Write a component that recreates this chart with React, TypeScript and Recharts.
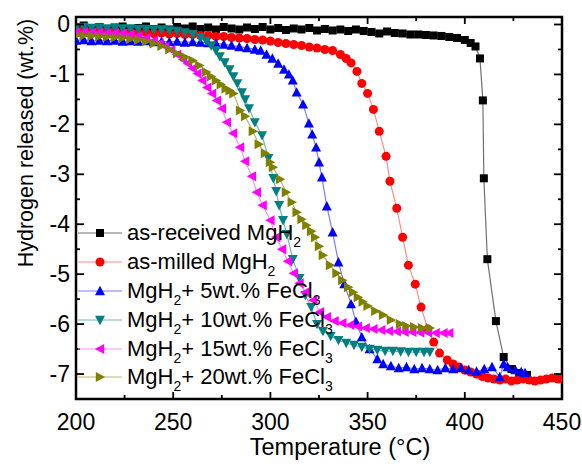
import React from 'react';
import { LineChart, Line, XAxis, YAxis, Legend, ReferenceArea, Label } from 'recharts';

// as-received MgH2
const receivedT = [200, 204, 208, 212, 216, 220, 224, 228, 232, 236, 240, 244, 248, 252, 256, 260, 264, 268, 272, 276, 280, 284, 288, 292, 296, 300, 304, 308, 312, 316, 320, 324, 328, 332, 336, 340, 344, 348, 352, 356, 360, 364, 368, 372, 376, 380, 384, 388, 392, 396, 400, 403, 405.5, 407.8, 409.3, 409.8, 411.6, 416, 420, 424, 428, 432];
const receivedH = [-0.06, -0.02, -0.08, -0.05, -0.1, -0.06, -0.04, -0.1, -0.07, -0.04, -0.09, -0.06, -0.1, -0.05, -0.08, -0.04, -0.09, -0.06, -0.1, -0.05, -0.08, -0.1, -0.06, -0.09, -0.05, -0.1, -0.07, -0.11, -0.08, -0.1, -0.07, -0.12, -0.09, -0.12, -0.1, -0.13, -0.1, -0.13, -0.15, -0.18, -0.14, -0.17, -0.18, -0.2, -0.2, -0.21, -0.22, -0.23, -0.25, -0.27, -0.31, -0.37, -0.44, -0.68, -1.52, -3.08, -4.7, -5.94, -6.66, -6.9, -6.98, -7.02];

// as-milled MgH2
const milledT = [200, 204, 208, 212, 216, 220, 224, 228, 232, 236, 240, 244, 248, 252, 256, 260, 264, 268, 272, 276, 280, 284, 288, 292, 296, 300, 304, 308, 312, 316, 320, 324, 328, 332, 336, 339, 341.5, 344.5, 347, 350, 353, 356, 359.5, 361.5, 365, 368, 371, 374.5, 377.5, 381, 384, 387, 391, 394, 397, 400, 403, 406, 409, 412, 415, 418, 421, 424, 427, 430, 433, 436, 439, 442, 445, 448, 450];
const milledH = [-0.12, -0.1, -0.14, -0.12, -0.15, -0.13, -0.16, -0.15, -0.17, -0.16, -0.18, -0.17, -0.19, -0.18, -0.2, -0.2, -0.22, -0.22, -0.24, -0.24, -0.26, -0.27, -0.28, -0.3, -0.31, -0.33, -0.36, -0.38, -0.4, -0.42, -0.45, -0.47, -0.5, -0.52, -0.6, -0.68, -0.77, -0.94, -1.18, -1.38, -1.7, -2.14, -2.64, -3.14, -3.68, -4.26, -4.82, -5.2, -5.66, -6.1, -6.36, -6.58, -6.72, -6.8, -6.86, -6.92, -6.96, -7.0, -7.05, -7.08, -7.1, -7.12, -7.1, -7.14, -7.12, -7.1, -7.12, -7.14, -7.12, -7.1, -7.08, -7.1, -7.1];

// MgH2 + 5wt.% FeCl3
const fe5T = [200, 204, 208, 212, 216, 220, 224, 228, 232, 236, 240, 244, 248, 252, 256, 260, 264, 268, 272, 276, 280, 284, 288, 292, 295, 298, 301, 304, 307, 309.5, 311.5, 313.5, 316.8, 319.8, 321.5, 323.5, 325, 326.5, 329, 332, 335, 338, 341.5, 344, 347, 351, 355, 358, 362, 366, 370, 374, 378, 382, 386, 390, 394, 398, 402, 406, 410, 414, 418, 420, 422, 426, 429, 431];
const fe5H = [-0.32, -0.31, -0.33, -0.32, -0.33, -0.32, -0.34, -0.33, -0.34, -0.33, -0.35, -0.34, -0.35, -0.34, -0.36, -0.35, -0.36, -0.37, -0.38, -0.4, -0.42, -0.45, -0.47, -0.5, -0.52, -0.6, -0.68, -0.78, -0.9, -1.0, -1.12, -1.36, -1.6, -1.98, -2.2, -2.46, -2.76, -3.06, -3.64, -4.16, -4.76, -5.2, -5.6, -5.95, -6.26, -6.5, -6.7, -6.8, -6.84, -6.88, -6.86, -6.9, -6.88, -6.9, -6.92, -6.88, -6.9, -6.88, -6.92, -6.95, -6.9, -6.86, -7.06, -6.8, -6.86, -6.92, -6.96, -6.98];

// MgH2 + 10wt.% FeCl3
const fe10T = [200, 204, 208, 212, 216, 220, 224, 228, 232, 236, 240, 244, 248, 252, 256, 260, 264, 267, 269.5, 272, 274, 276.5, 279, 281, 283, 285.4, 287, 289, 292, 295.7, 299, 301.5, 303, 304.5, 306.5, 308.5, 311.5, 315, 318, 321, 324, 327, 331, 335, 339, 343, 347, 351, 355, 359, 363, 367, 371, 375, 379, 382];
const fe10H = [-0.06, -0.05, -0.07, -0.06, -0.08, -0.07, -0.08, -0.08, -0.09, -0.09, -0.1, -0.1, -0.12, -0.13, -0.16, -0.2, -0.26, -0.33, -0.42, -0.52, -0.64, -0.76, -0.9, -1.04, -1.18, -1.36, -1.5, -1.68, -1.96, -2.22, -2.68, -3.08, -3.34, -3.62, -3.92, -4.2, -4.7, -5.08, -5.42, -5.66, -6.0, -6.14, -6.24, -6.32, -6.38, -6.42, -6.46, -6.5, -6.52, -6.54, -6.54, -6.55, -6.56, -6.56, -6.56, -6.56];

// MgH2 + 15wt.% FeCl3
const fe15T = [200, 204, 208, 212, 216, 220, 224, 228, 232, 236, 240, 243, 246, 249, 252, 255, 257.5, 260, 262.5, 265, 267.5, 270, 272.5, 275, 277.6, 280.8, 284.4, 287, 290.5, 293, 296, 300, 303, 306, 309, 312, 315, 318, 322, 325.5, 329, 333, 337, 341, 345, 349, 353, 357, 361, 365, 369, 373, 377, 381, 385, 389, 392];
const fe15H = [-0.16, -0.15, -0.16, -0.16, -0.17, -0.17, -0.18, -0.2, -0.23, -0.27, -0.32, -0.38, -0.44, -0.51, -0.6, -0.7, -0.78, -0.88, -0.98, -1.12, -1.26, -1.38, -1.52, -1.68, -1.96, -2.18, -2.46, -2.74, -3.04, -3.36, -3.62, -3.92, -4.26, -4.5, -4.74, -4.98, -5.18, -5.36, -5.52, -5.76, -5.86, -5.94, -5.98, -6.02, -6.05, -6.08, -6.1, -6.12, -6.14, -6.15, -6.16, -6.16, -6.17, -6.17, -6.18, -6.18, -6.18];

// MgH2 + 20wt.% FeCl3
const fe20T = [200, 204, 208, 212, 216, 220, 224, 228, 232, 236, 240, 244, 248, 252, 256, 260, 263.5, 267, 269.5, 272, 274.5, 277, 279, 281, 284.4, 287, 291, 294, 297.2, 299.8, 301.3, 305, 308, 311, 313.5, 316, 318.5, 321, 323, 325, 327, 330.7, 334, 337, 340, 342.5, 345, 347.5, 350, 354, 358, 362, 366.7, 370, 374, 378, 382];
const fe20H = [-0.22, -0.22, -0.23, -0.24, -0.25, -0.26, -0.27, -0.29, -0.31, -0.34, -0.38, -0.43, -0.5, -0.58, -0.65, -0.72, -0.82, -0.95, -1.04, -1.12, -1.2, -1.28, -1.32, -1.38, -1.72, -1.84, -2.14, -2.4, -2.58, -2.76, -2.86, -3.1, -3.36, -3.56, -3.76, -3.9, -4.02, -4.14, -4.26, -4.44, -4.62, -4.82, -4.98, -5.12, -5.26, -5.36, -5.46, -5.55, -5.64, -5.74, -5.82, -5.92, -6.0, -6.04, -6.06, -6.08, -6.08];

const xTicks = [200, 225, 250, 275, 300, 325, 350, 375, 400, 425, 450];
const yTicks = [-7, -6.5, -6, -5.5, -5, -4.5, -4, -3.5, -3, -2.5, -2, -1.5, -1, -0.5, 0];

const FONT = '"Liberation Sans", Arial, Helvetica, sans-serif';
const W = 582;
const H = 470;
const TOP = 17;
const RIGHT = 20;
const LEFT_W = 76;
const BOTTOM_H = 71;

type Shape = 'square' | 'circle' | 'up' | 'down' | 'left' | 'right';

const zip = (t: number[], h: number[]) => t.map((x, i) => ({ t: x, h: h[i] }));

const series = [
  { key: 'received', label: 'as-received MgH_2', data: zip(receivedT, receivedH), color: '#000000', line: '#707070', shape: 'square' as Shape },
  { key: 'milled', label: 'as-milled MgH_2', data: zip(milledT, milledH), color: '#ff0000', line: '#ff8c8c', shape: 'circle' as Shape },
  { key: 'fe5', label: 'MgH_2+ 5wt.% FeCl_3', data: zip(fe5T, fe5H), color: '#0000ff', line: '#7a7aff', shape: 'up' as Shape },
  { key: 'fe10', label: 'MgH_2+ 10wt.% FeCl_3', data: zip(fe10T, fe10H), color: '#008080', line: '#70b8b8', shape: 'down' as Shape },
  { key: 'fe15', label: 'MgH_2+ 15wt.% FeCl_3', data: zip(fe15T, fe15H), color: '#ff00ff', line: '#ff8cff', shape: 'left' as Shape },
  { key: 'fe20', label: 'MgH_2+ 20wt.% FeCl_3', data: zip(fe20T, fe20H), color: '#808000', line: '#b8b870', shape: 'right' as Shape },
];

function Marker({ cx, cy, shape, color }: { cx: number; cy: number; shape: Shape; color: string }) {
  const a = 5.2;
  const b = 4.2;
  let pts = '';
  switch (shape) {
    case 'square':
      return <rect x={cx - 4} y={cy - 4} width={8} height={8} fill={color} />;
    case 'circle':
      return <circle cx={cx} cy={cy} r={4.5} fill={color} />;
    case 'up':
      pts = `${cx},${cy - a} ${cx + b + 0.8},${cy + b} ${cx - b - 0.8},${cy + b}`;
      break;
    case 'down':
      pts = `${cx},${cy + a} ${cx + b + 0.8},${cy - b} ${cx - b - 0.8},${cy - b}`;
      break;
    case 'left':
      pts = `${cx - a},${cy} ${cx + b},${cy - b - 0.8} ${cx + b},${cy + b + 0.8}`;
      break;
    case 'right':
      pts = `${cx + a},${cy} ${cx - b},${cy - b - 0.8} ${cx - b},${cy + b + 0.8}`;
      break;
  }
  return <polygon points={pts} fill={color} />;
}

const makeDot = (shape: Shape, color: string) => (p: any) => {
  if (p.cx == null || p.cy == null) return <g key={p.key} />;
  return <Marker key={p.key} cx={p.cx} cy={p.cy} shape={shape} color={color} />;
};

function Subbed({ text }: { text: string }) {
  const parts = text.split(/_(\d)/);
  return (
    <>
      {parts.map((s, i) =>
        i % 2 === 1 ? (
          <span key={i} style={{ fontSize: 14, position: 'relative', top: 7 }}>{s}</span>
        ) : (
          <span key={i}>{s}</span>
        )
      )}
    </>
  );
}

const LegendBox = () => (
  <div style={{ fontFamily: FONT, fontSize: 22, color: '#000' }}>
    {series.map((s) => (
      <div key={s.key} style={{ display: 'flex', alignItems: 'center', height: 28.8, whiteSpace: 'nowrap' }}>
        <svg width={46} height={20} style={{ flex: 'none' }}>
          <line x1={0} y1={10} x2={44} y2={10} stroke={s.line} strokeWidth={1.2} />
          <Marker cx={22} cy={10} shape={s.shape} color={s.color} />
        </svg>
        <span style={{ marginLeft: 3 }}>
          <Subbed text={s.label} />
        </span>
      </div>
    ))}
  </div>
);

const XTick = (props: any) => {
  const { x, y, payload } = props;
  const v = payload.value as number;
  const major = v % 50 === 0;
  const len = major ? 7 : 4;
  return (
    <g>
      <line x1={x} y1={y} x2={x} y2={y - len} stroke="#000" strokeWidth={1.8} />
      <line x1={x} y1={TOP} x2={x} y2={TOP + len} stroke="#000" strokeWidth={1.8} />
      {major && (
        <text x={x} y={y + 31} textAnchor="middle" fontSize={23} fontFamily={FONT} fill="#000">
          {v}
        </text>
      )}
    </g>
  );
};

const YTick = (props: any) => {
  const { x, y, payload } = props;
  const v = payload.value as number;
  const major = Number.isInteger(v);
  const len = major ? 8 : 4;
  const right = W - RIGHT;
  return (
    <g>
      <line x1={x} y1={y} x2={x + len} y2={y} stroke="#000" strokeWidth={1.8} />
      <line x1={right} y1={y} x2={right - len} y2={y} stroke="#000" strokeWidth={1.8} />
      {major && (
        <text x={x - 6} y={y + 8} textAnchor="end" fontSize={23} fontFamily={FONT} fill="#000">
          {v}
        </text>
      )}
    </g>
  );
};

export default function App() {
  return (
    <div style={{ position: 'absolute', left: 0, top: 0, width: W, height: H, background: '#fff' }}>
      <LineChart width={W} height={H} margin={{ top: TOP, right: RIGHT, left: 0, bottom: 0 }}>
        <XAxis
          type="number"
          dataKey="t"
          domain={[200, 450]}
          ticks={xTicks}
          interval={0}
          allowDataOverflow
          height={BOTTOM_H}
          tickSize={0}
          tickMargin={0}
          axisLine={false}
          tickLine={false}
          tick={XTick}
        >
          <Label
            content={() => (
              <text x={340} y={455} textAnchor="middle" fontSize={23.5} fontFamily={FONT} fill="#000">
                Temperature (°C)
              </text>
            )}
          />
        </XAxis>
        <YAxis
          type="number"
          domain={[-7.5, 0.15]}
          ticks={yTicks}
          interval={0}
          allowDataOverflow
          width={LEFT_W}
          tickSize={0}
          tickMargin={0}
          axisLine={false}
          tickLine={false}
          tick={YTick}
        >
          <Label
            content={() => (
              <text
                transform="translate(33,143) rotate(-90)"
                textAnchor="middle"
                fontSize={21.5}
                fontFamily={FONT}
                fill="#000"
              >
                Hydrogen released (wt.%)
              </text>
            )}
          />
        </YAxis>
        {series.map((s) => (
          <Line
            key={s.key}
            data={s.data}
            dataKey="h"
            name={s.key}
            type="linear"
            stroke={s.line}
            strokeWidth={1.2}
            dot={makeDot(s.shape, s.color)}
            activeDot={false}
            isAnimationActive={false}
          />
        ))}
        <ReferenceArea
          x1={200}
          x2={450}
          y1={-7.5}
          y2={0.15}
          fill="none"
          fillOpacity={0}
          stroke="#000"
          strokeWidth={2.5}
          ifOverflow="visible"
        />
        <Legend
          layout="vertical"
          align="center"
          verticalAlign="middle"
          content={LegendBox}
          wrapperStyle={{ position: 'absolute', left: 78, top: 219, width: 'auto' }}
        />
      </LineChart>
    </div>
  );
}
